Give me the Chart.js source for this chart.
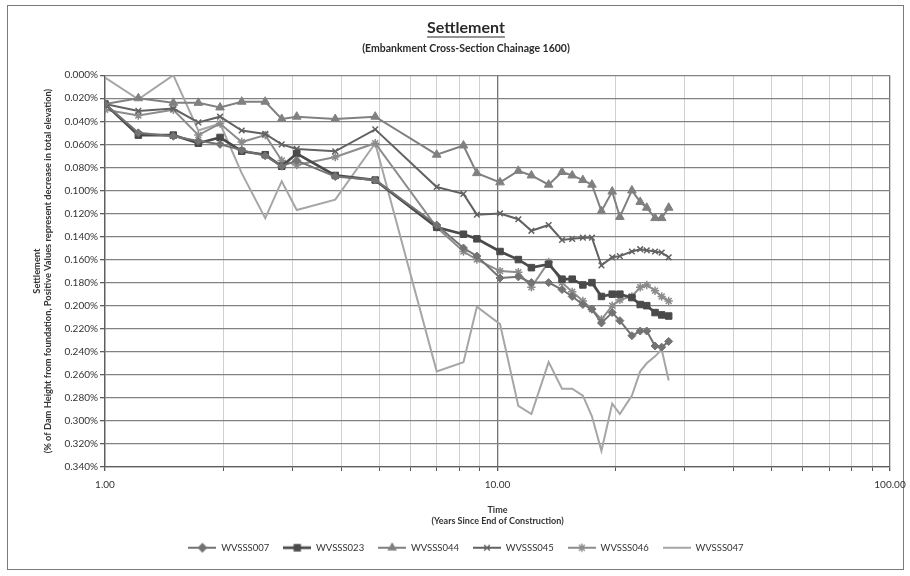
<!DOCTYPE html>
<html><head><meta charset="utf-8">
<script src="https://cdn.jsdelivr.net/npm/chart.js@4.4.0/dist/chart.umd.min.js"></script>
<style>
html,body{margin:0;padding:0;background:#fff;overflow:hidden;width:910px;height:576px;}
#frame{position:absolute;left:7px;top:5px;width:897px;height:565px;border:1.5px solid #7a7a7a;box-sizing:border-box;}
#c{position:absolute;left:0;top:0;}
</style></head><body>
<div id="frame"></div>
<canvas id="c" width="932" height="576"></canvas>
<script>
// ---- data ----
const years = [1.0, 1.216, 1.493, 1.729, 1.964, 2.23, 2.56, 2.82, 3.08, 3.86, 4.88, 7.0, 8.19, 8.86, 10.15, 11.3, 12.2, 13.5, 14.6, 15.5, 16.5, 17.4, 18.4, 19.6, 20.5, 22.0, 23.1, 24.0, 25.2, 26.2, 27.3];
const seriesNames = ['WVSSS007', 'WVSSS023', 'WVSSS044', 'WVSSS045', 'WVSSS046', 'WVSSS047'];
const s007 = [0.025, 0.050, 0.053, 0.057, 0.060, 0.065, 0.070, 0.079, 0.074, 0.088, 0.091, 0.130, 0.150, 0.157, 0.176, 0.175, 0.180, 0.180, 0.186, 0.192, 0.199, 0.203, 0.215, 0.206, 0.213, 0.226, 0.222, 0.222, 0.235, 0.236, 0.231];
const s023 = [0.025, 0.052, 0.052, 0.059, 0.054, 0.066, 0.069, 0.079, 0.068, 0.087, 0.091, 0.132, 0.138, 0.142, 0.153, 0.160, 0.167, 0.164, 0.177, 0.177, 0.182, 0.180, 0.192, 0.190, 0.190, 0.193, 0.199, 0.200, 0.206, 0.208, 0.209];
const s044 = [0.025, 0.020, 0.024, 0.024, 0.028, 0.023, 0.023, 0.038, 0.036, 0.038, 0.036, 0.069, 0.061, 0.085, 0.093, 0.083, 0.087, 0.095, 0.084, 0.087, 0.091, 0.095, 0.118, 0.101, 0.123, 0.100, 0.110, 0.115, 0.124, 0.124, 0.115];
const s045 = [0.025, 0.031, 0.029, 0.041, 0.036, 0.048, 0.051, 0.060, 0.064, 0.066, 0.047, 0.097, 0.103, 0.121, 0.120, 0.125, 0.135, 0.130, 0.143, 0.142, 0.141, 0.141, 0.165, 0.158, 0.157, 0.153, 0.151, 0.152, 0.153, 0.154, 0.158];
const s046 = [0.030, 0.035, 0.030, 0.052, 0.042, 0.058, 0.052, 0.074, 0.078, 0.071, 0.059, 0.132, 0.153, 0.160, 0.170, 0.171, 0.184, 0.162, 0.180, 0.188, 0.196, 0.203, 0.212, 0.200, 0.195, 0.192, 0.184, 0.182, 0.187, 0.192, 0.196];
const s047 = [0.002, 0.021, 0.000, 0.048, 0.042, 0.085, 0.124, 0.092, 0.117, 0.108, 0.059, 0.257, 0.249, 0.201, 0.216, 0.287, 0.294, 0.249, 0.272, 0.272, 0.278, 0.296, 0.326, 0.285, 0.294, 0.278, 0.257, 0.250, 0.244, 0.238, 0.265];
const xTicks = [1, 2, 3, 4, 5, 6, 7, 8, 9, 10, 20, 30, 40, 50, 60, 70, 80, 90, 100];
const xTickLabels = {1: '1.00', 10: '10.00', 100: '100.00'};
const yTicks = [0.000, 0.020, 0.040, 0.060, 0.080, 0.100, 0.120, 0.140, 0.160, 0.180, 0.200, 0.220, 0.240, 0.260, 0.280, 0.300, 0.320, 0.340];
const titleText = 'Settlement';
const subtitleText = '(Embankment Cross-Section Chainage 1600)';
const yTitle = ['Settlement', '(% of Dam Height from foundation, Positive Values represent decrease in total elevation)'];
const xTitle = ['Time', '(Years Since End of Construction)'];

// ---- styles ----
const allSeries = [s007, s023, s044, s045, s046, s047];
const colors = ['#737373', '#4a4a4a', '#808080', '#626262', '#8c8c8c', '#a6a6a6'];
const markers = ['rectRot', 'rect', 'triangle', 'crossRot', 'star', 'circle'];
const radii = [4, 4.6, 5, 4, 4.2, 0];
const widths = [2, 2.7, 2, 2, 2, 2];

const FONT = 'Lato, "Open Sans", "DejaVu Sans", sans-serif';
Chart.defaults.font.family = FONT;
Chart.defaults.color = '#333';

const datasets = seriesNames.map((name, i) => ({
  label: name,
  data: years.map((t, j) => ({x: t, y: allSeries[i][j]})),
  borderColor: colors[i],
  backgroundColor: colors[i],
  borderWidth: widths[i],
  pointStyle: markers[i],
  pointRadius: radii[i],
  pointHoverRadius: radii[i],
  pointBorderWidth: (markers[i] === 'crossRot' || markers[i] === 'star') ? 1.5 : 1,
  tension: 0,
  fill: false
}));

function makeIcon(i) {
  const cv = document.createElement('canvas');
  cv.width = 28; cv.height = 12;
  const g = cv.getContext('2d');
  g.strokeStyle = colors[i];
  g.lineWidth = widths[i];
  g.beginPath(); g.moveTo(0, 6); g.lineTo(28, 6); g.stroke();
  if (radii[i] > 0) {
    g.fillStyle = colors[i];
    g.lineWidth = 1.4;
    Chart.helpers.drawPoint(g, {pointStyle: markers[i], radius: Math.min(radii[i], 4.2), rotation: 0, borderWidth: 1.4}, 14, 6);
  }
  return cv;
}
const legendIcons = seriesNames.map((n, i) => makeIcon(i));

const underline = {
  id: 'underline',
  afterDraw(chart) {
    const tb = chart.titleBlock;
    if (!tb) return;
    const ctx = chart.ctx;
    ctx.save();
    ctx.font = 'bold 16px ' + FONT;
    const w = ctx.measureText(titleText).width;
    const cx = (tb.left + tb.right) / 2;
    ctx.strokeStyle = '#2a2a2a';
    ctx.lineWidth = 1.2;
    ctx.beginPath();
    ctx.moveTo(cx - w / 2, 37);
    ctx.lineTo(cx + w / 2, 37);
    ctx.stroke();
    ctx.restore();
  }
};

new Chart(document.getElementById('c'), {
  type: 'line',
  data: {datasets},
  plugins: [underline],
  options: {
    responsive: false,
    animation: false,
    layout: {padding: {left: 0, right: 0, top: 0, bottom: 13.5}},
    plugins: {
      title: {display: true, text: titleText, color: '#2a2a2a', font: {size: 16, weight: 'bold'}, padding: {top: 18, bottom: 2}},
      subtitle: {display: true, text: subtitleText, color: '#2a2a2a', font: {size: 10.5, weight: 'bold'}, padding: {top: 3.5, bottom: 19.9}},
      legend: {
        position: 'bottom',
        labels: {
          usePointStyle: true, pointStyleWidth: 28, padding: 14,
          font: {size: 9.5}, color: '#333',
          generateLabels(chart) {
            return chart.data.datasets.map((ds, i) => ({
              text: ds.label, pointStyle: legendIcons[i], fontColor: '#333',
              hidden: false, datasetIndex: i, lineWidth: 0,
              strokeStyle: 'rgba(0,0,0,0)', fillStyle: 'rgba(0,0,0,0)'
            }));
          }
        }
      },
      tooltip: {enabled: false}
    },
    scales: {
      x: {
        type: 'logarithmic', min: 1, max: 100,
        afterBuildTicks(scale) { scale.ticks = xTicks.map(v => ({value: v, major: !!xTickLabels[v]})); },
        afterFit(scale) { scale.height = 62; },
        ticks: {autoSkip: false, maxRotation: 0, minRotation: 0, padding: 8, font: {size: 10}, color: '#333',
          callback(v) { return xTickLabels[v] || ''; }},
        grid: {
          color(ctx) { return (ctx.tick && xTickLabels[ctx.tick.value]) ? '#737373' : '#d0d0d0'; },
          lineWidth(ctx) { return (ctx.tick && xTickLabels[ctx.tick.value]) ? 1.3 : 1; },
          tickLength: 4, tickColor: '#555'
        },
        border: {color: '#5e5e5e', width: 1.3},
        title: {display: true, text: xTitle, color: '#333', font: {size: 9, weight: 'bold', lineHeight: '11px'}, padding: {top: 0, bottom: 2.5}}
      },
      y: {
        type: 'linear', reverse: true, min: 0, max: 0.34,
        afterBuildTicks(scale) { scale.ticks = yTicks.map(v => ({value: v})); },
        afterFit(scale) { scale.width = 105; },
        ticks: {padding: 2, font: {size: 10}, color: '#333', callback(v) { return v.toFixed(3) + '%'; }},
        grid: {color: '#828282', lineWidth: 1.3, tickLength: 5, tickColor: '#5e5e5e'},
        border: {color: '#5e5e5e', width: 1.3},
        title: {display: true, text: yTitle, color: '#333', font: {size: 9.3, weight: 'bold', lineHeight: '11px'}, padding: {top: 31.5, bottom: 0}}
      },
      yPad: {
        type: 'linear', position: 'right', display: true,
        grid: {display: false}, ticks: {display: false}, border: {display: false},
        afterFit(scale) { scale.width = 42; }
      }
    }
  }
});
</script>
</body></html>
